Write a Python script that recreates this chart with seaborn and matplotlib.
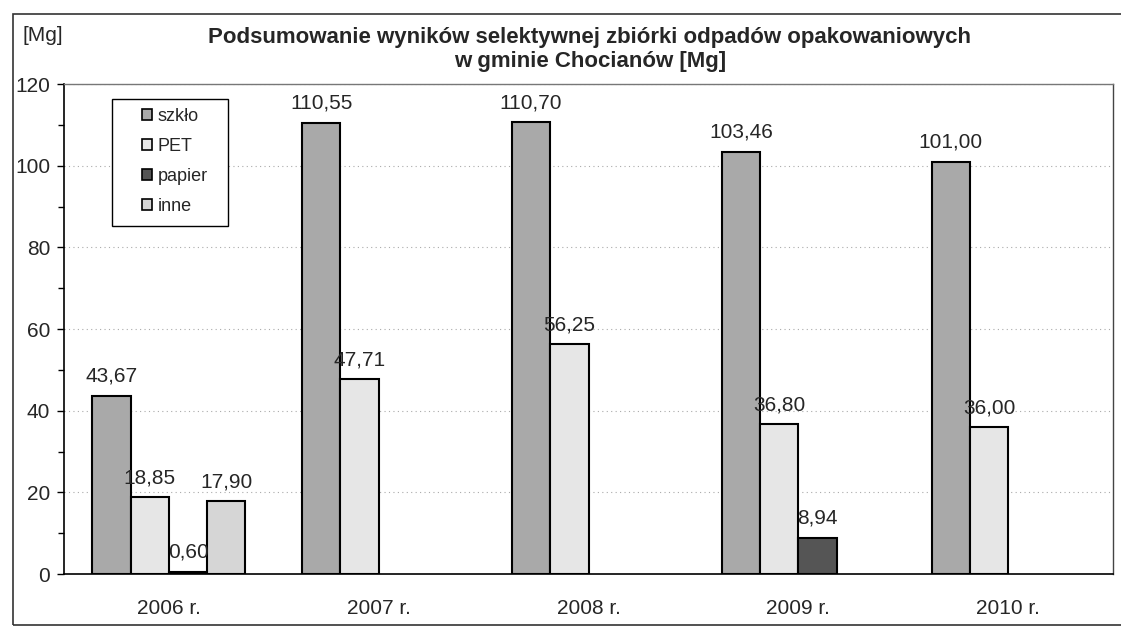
import numpy as np
import pandas as pd
import seaborn as sns
import matplotlib.pyplot as plt
from matplotlib.patches import Patch, Rectangle

# values (NaN = no bar in that year)
lata = ['2006 r.', '2007 r.', '2008 r.', '2009 r.', '2010 r.']
rodzaje = ['szkło', 'PET', 'papier', 'inne']
szklo = [43.67, 110.55, 110.70, 103.46, 101.00]
pet = [18.85, 47.71, 56.25, 36.80, 36.00]
papier = [0.60, np.nan, np.nan, 8.94, np.nan]
inne = [17.90, np.nan, np.nan, np.nan, np.nan]
kolory = ['#a9a9a9', '#e6e6e6', '#555555', '#d6d6d6']

df = pd.DataFrame({'rok': lata * 4,
                   'rodzaj': np.repeat(rodzaje, len(lata)),
                   'Mg': szklo + pet + papier + inne}).dropna()

sns.set_style('white')
plt.rcParams['font.family'] = ['Liberation Sans', 'DejaVu Sans']

fig = plt.figure(figsize=(11.21, 6.27), dpi=100)
ax = fig.add_axes([0.0571, 0.0845, 0.9358, 0.7815])

sns.barplot(data=df, x='rok', y='Mg', hue='rodzaj', order=lata, hue_order=rodzaje,
            palette=kolory, edgecolor='black', linewidth=1.5, width=0.73,
            errorbar=None, legend=False, ax=ax, zorder=3)

for c in ax.containers:
    ax.bar_label(c, labels=[f'{v:.2f}'.replace('.', ',') for v in c.datavalues],
                 padding=7, fontsize=15)

ax.set_xlim(-0.5, 4.5)
ax.set_ylim(0, 120)
ax.set_yticks(range(0, 121, 20))
ax.set_yticks(range(10, 120, 20), minor=True)
ax.set_xticks(np.arange(-0.5, 5, 1))
ax.set_xticklabels([])
ax.set_xticks(range(5), minor=True)
ax.set_xticklabels(lata, minor=True, fontsize=15)
ax.tick_params(axis='x', which='major', direction='out', length=6, width=1, color='black')
ax.tick_params(axis='x', which='minor', length=0, pad=18)
ax.tick_params(axis='y', which='both', direction='out', left=True, labelsize=15,
               color='black', width=1)
ax.tick_params(axis='y', which='major', length=5, pad=5)
ax.tick_params(axis='y', which='minor', length=4)
ax.set_xlabel('')
ax.set_ylabel('')

ax.set_axisbelow(True)
ax.yaxis.grid(True, which='major', linestyle=(0, (1, 3)), color='#aaaaaa', linewidth=0.8)
ax.spines['left'].set_color('black')
ax.spines['bottom'].set_color('black')
ax.spines['left'].set_linewidth(1.2)
ax.spines['bottom'].set_linewidth(1.2)
ax.spines['top'].set_color('#777777')
ax.spines['right'].set_color('#444444')
ax.spines['top'].set_linewidth(1)
ax.spines['right'].set_linewidth(1)

# legend: box drawn separately so entries sit in its middle
ax.add_patch(Rectangle((0.0458, 0.710), 0.111, 0.259, transform=ax.transAxes,
                       facecolor='white', edgecolor='black', linewidth=1, zorder=4))
uchwyty = [Patch(facecolor=k, edgecolor='black', linewidth=1.2) for k in kolory]
ax.legend(uchwyty, rodzaje, loc='upper left', bbox_to_anchor=(0.074, 0.951),
          frameon=False, fontsize=13, handlelength=0.55, handleheight=0.55,
          handletextpad=0.35, labelspacing=0.72, borderpad=0, borderaxespad=0).set_zorder(5)

fig.text(0.526, 0.921, 'Podsumowanie wyników selektywnej zbiórki odpadów opakowaniowych\n'
         'w gminie Chocianów [Mg]', ha='center', va='center', fontsize=16,
         fontweight='bold', linespacing=1.2)
fig.text(0.0205, 0.943, '[Mg]', ha='left', va='center', fontsize=15)

# outer frame of the scanned chart
fig.patches.append(Rectangle((0.0116, 0.003), 1.0, 0.975, transform=fig.transFigure,
                             fill=False, edgecolor='#333333', linewidth=1.2))

fig.savefig('out.png', dpi=100)
